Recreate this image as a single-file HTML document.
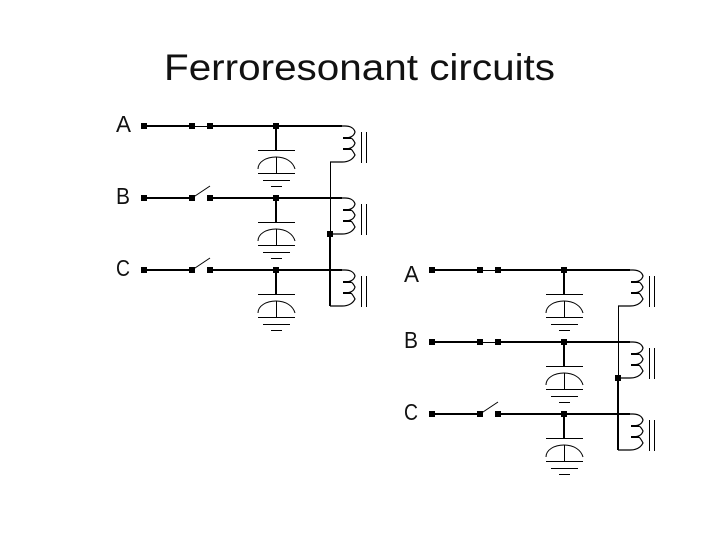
<!DOCTYPE html>
<html><head><meta charset="utf-8"><style>html,body{margin:0;padding:0;background:#fff;width:720px;height:540px;overflow:hidden}svg{display:block}text{font-family:"Liberation Sans",sans-serif;fill:#111}</style></head>
<body>
<svg width="720" height="540" viewBox="0 0 720 540" xmlns="http://www.w3.org/2000/svg">
<defs>
<g id="dot"><rect x="-3" y="-3" width="6" height="6" fill="#000"/></g>
<g id="cap" fill="none" stroke="#000">
<path d="M0 0V24" stroke-width="2"/>
<path d="M-18 24.500H19M-18 47.500H19M-13 54.500H14M-5 60.500H6" stroke-width="1"/>
<path d="M0.500 31V48" stroke-width="1"/>
<path d="M-18 43C-18 36 -10 31 0 31C10 31 17 36 19 43" stroke-width="1"/>
</g>
<g id="coil" fill="none" stroke="#000">
<path d="M0 0H3C8 0 12 2 13 6C12 10 9 12 1 12" stroke-width="1.2"/>
<path d="M1 12H9" stroke-width="2"/>
<path d="M9 12C11 13 12 15 13 17C12 21 9 23 1 23" stroke-width="1.2"/>
<path d="M1 23H9" stroke-width="2"/>
<path d="M9 23C11 25 12 27 13 29C11 33 7 36 0 36H-12" stroke-width="1.2"/>
<path d="M19.500 6V37M24.500 6V37" stroke-width="1"/>
</g>
<g id="closed">
<path d="M0 0H48" stroke="#000" stroke-width="2"/>
<path d="M48 0.500H66" stroke="#000" stroke-width="1"/>
<path d="M66 0H198" stroke="#000" stroke-width="2"/>
<use href="#dot"/><use href="#dot" x="48"/><use href="#dot" x="66"/>
<use href="#cap" x="132"/><use href="#dot" x="132"/>
</g>
<g id="open">
<path d="M0 0H48" stroke="#000" stroke-width="2"/>
<path d="M48 0L66 -12" stroke="#000" stroke-width="1" fill="none"/>
<path d="M66 0H198" stroke="#000" stroke-width="2"/>
<use href="#dot"/><use href="#dot" x="48"/><use href="#dot" x="66"/>
<use href="#cap" x="132"/><use href="#dot" x="132"/>
</g>
</defs>

<text x="164" y="80" font-size="37.500" textLength="391" lengthAdjust="spacingAndGlyphs">Ferroresonant circuits</text>

<text x="116" y="132" font-size="23" textLength="15" lengthAdjust="spacingAndGlyphs">A</text>
<text x="116" y="204" font-size="23" textLength="14" lengthAdjust="spacingAndGlyphs">B</text>
<text x="116" y="276" font-size="23" textLength="14" lengthAdjust="spacingAndGlyphs">C</text>

<use href="#closed" x="144" y="126"/>
<use href="#open" x="144" y="198"/>
<use href="#open" x="144" y="270"/>
<use href="#coil" x="342" y="126"/>
<use href="#coil" x="342" y="198"/>
<use href="#coil" x="342" y="270"/>
<path d="M330.500 162V234" stroke="#000" stroke-width="1" fill="none"/>
<path d="M330 234V306" stroke="#000" stroke-width="2" fill="none"/>
<use href="#dot" x="330" y="234"/>

<text x="404" y="282" font-size="23" textLength="15" lengthAdjust="spacingAndGlyphs">A</text>
<text x="404" y="348" font-size="23" textLength="14" lengthAdjust="spacingAndGlyphs">B</text>
<text x="404" y="420" font-size="23" textLength="14" lengthAdjust="spacingAndGlyphs">C</text>

<use href="#closed" x="432" y="270"/>
<use href="#closed" x="432" y="342"/>
<use href="#open" x="432" y="414"/>
<use href="#coil" x="630" y="270"/>
<use href="#coil" x="630" y="342"/>
<use href="#coil" x="630" y="414"/>
<path d="M618.500 306V378" stroke="#000" stroke-width="1" fill="none"/>
<path d="M618 378V450" stroke="#000" stroke-width="2" fill="none"/>
<use href="#dot" x="618" y="378"/>
</svg>
</body></html>
